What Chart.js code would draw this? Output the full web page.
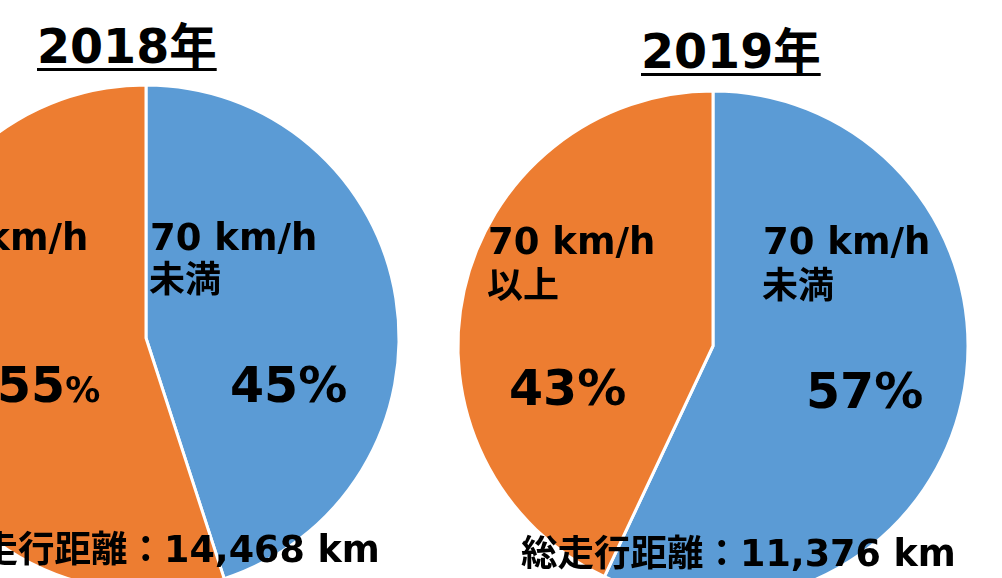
<!DOCTYPE html>
<html>
<head>
<meta charset="utf-8">
<script src="https://cdn.jsdelivr.net/npm/chart.js@4.4.1/dist/chart.umd.min.js"></script>
<style>
  html, body { margin: 0; padding: 0; background: #fff; }
  #stage {
    position: relative; width: 1002px; height: 578px; overflow: hidden;
    font-family: "DejaVu Sans", "Noto Sans CJK JP", sans-serif;
    font-weight: bold; color: #000;
  }
  #stage canvas { position: absolute; }
  .txt { position: absolute; line-height: 1; white-space: nowrap; }
  .title { text-decoration: underline; text-decoration-thickness: 3px; text-underline-offset: 5px; }
</style>
</head>
<body>
<div id="stage"></div>
<script>
// values
const years = ['2018年', '2019年'];
const speedClasses = ['未満', '以上'];          // under / over 70 km/h
const speedLimit = '70 km/h';
const share2018 = [45, 55];
const share2019 = [57, 43];
const totalKm = ['14,468', '11,376'];
const sliceColors = ['#5B9BD5', '#ED7D31'];

// where each pie and its texts sit on the page
const layout = [
  {
    cx: 146, cy: 338, r: 253,
    title: { x: 37, base: 63, size: 47.5 },
    cls: [{ x: 150, base: 250, base2: 292 }, { x: -79, base: 250, base2: 292 }],
    pct: [{ x: 230, base: 402 }, { x: -3, base: 402, smallSign: true }],
    total: { x: -55, base: 563 }
  },
  {
    cx: 713, cy: 346, r: 255,
    title: { x: 641, base: 68, size: 47.5 },
    cls: [{ x: 763, base: 254, base2: 298 }, { x: 488, base: 254, base2: 298 }],
    pct: [{ x: 806, base: 408 }, { x: 509, base: 405 }],
    total: { x: 521, base: 567 }
  }
];

const stage = document.getElementById('stage');

// DejaVu Sans with line-height 1: baseline sits 0.846em below the box top
function put(html, x, base, size, cls) {
  const d = document.createElement('div');
  d.className = 'txt' + (cls ? ' ' + cls : '');
  d.style.left = x + 'px';
  d.style.top = (base - 0.846 * size) + 'px';
  d.style.fontSize = size + 'px';
  d.innerHTML = html;
  stage.appendChild(d);
  return d;
}

function drawPie(idx, shares) {
  const L = layout[idx];
  const size = 2 * L.r + 20;
  const canvas = document.createElement('canvas');
  canvas.width = size;
  canvas.height = size;
  canvas.style.left = (L.cx - size / 2) + 'px';
  canvas.style.top = (L.cy - size / 2) + 'px';
  stage.appendChild(canvas);

  new Chart(canvas, {
    type: 'pie',
    data: {
      labels: speedClasses,
      datasets: [{
        data: shares,
        backgroundColor: sliceColors,
        borderColor: '#ffffff',
        borderWidth: 3,
        hoverOffset: 0
      }]
    },
    options: {
      responsive: false,
      animation: false,
      devicePixelRatio: 1,
      radius: L.r,
      events: [],
      layout: { padding: 0 },
      plugins: {
        legend: { display: false },
        tooltip: { enabled: false },
        title: { display: false }
      }
    }
  });

  put(years[idx], L.title.x, L.title.base, L.title.size, 'title');

  shares.forEach((v, i) => {
    const c = L.cls[i];
    put(speedLimit, c.x, c.base, 37);
    put(speedClasses[i], c.x - 1, c.base2, 36);
    const p = L.pct[i];
    const sign = p.smallSign ? '<span style="font-size:35px">%</span>' : '%';
    put(v + sign, p.x, p.base, 49);
  });

  put('総走行距離：' + totalKm[idx] + ' km', L.total.x, L.total.base, 36.5);
}

drawPie(0, share2018);
drawPie(1, share2019);
</script>
</body>
</html>
